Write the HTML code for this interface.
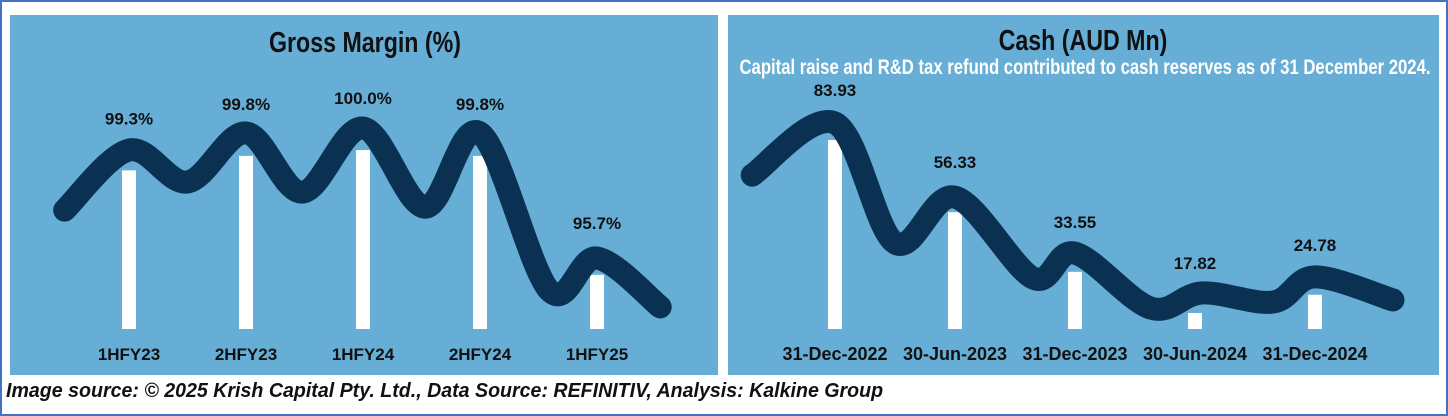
<!DOCTYPE html>
<html><head><meta charset="utf-8"><style>
html,body{margin:0;padding:0;background:#fff;}
body{width:1448px;height:416px;position:relative;overflow:hidden;font-family:"Liberation Sans",sans-serif;}
#frame{position:absolute;left:0;top:0;width:1444px;height:412px;border:2px solid #4472c4;}
.panel{position:absolute;top:15px;height:360px;background:#67aed6;}
#footer{position:absolute;left:6px;top:380px;font-style:italic;font-weight:bold;font-size:20px;color:#111;white-space:nowrap;transform:scaleX(0.98);transform-origin:left top;}
svg text{font-family:"Liberation Sans",sans-serif;}
</style></head><body>
<div id="frame"></div>
<div class="panel" style="left:10px;width:708px;"></div>
<div class="panel" style="left:728px;width:711px;"></div>
<svg id="chart" width="1448" height="416" style="position:absolute;left:0;top:0">
<text x="365" y="52" text-anchor="middle" font-size="29" font-weight="bold" fill="#111" transform="translate(365,0) scale(0.8,1) translate(-365,0)">Gross Margin (%)</text>
<text x="1083" y="50" text-anchor="middle" font-size="29" font-weight="bold" fill="#111" transform="translate(1083,0) scale(0.8,1) translate(-1083,0)">Cash (AUD Mn)</text>
<text x="1085" y="74" text-anchor="middle" font-size="21.4" font-weight="bold" fill="#fff" transform="translate(1085,0) scale(0.78,1) translate(-1085,0)">Capital raise and R&amp;D tax refund contributed to cash reserves as of 31 December 2024.</text>
</svg>
<div id="footer">Image source: © 2025 Krish Capital Pty. Ltd., Data Source: REFINITIV, Analysis: Kalkine Group</div>
<script>
const gmCategories=["1HFY23","2HFY23","1HFY24","2HFY24","1HFY25"];
const gmValues=[99.3,99.8,100.0,99.8,95.7];
const gmLabels=["99.3%","99.8%","100.0%","99.8%","95.7%"];
const gmWaveIdx=[-0.55,0,0.5,1,1.48,2,2.53,3,3.59,4,4.54];
const gmWaveVals=[97.93,100.0,98.9,100.59,98.55,100.76,98.03,100.59,95.17,96.28,94.59];
const cashCategories=["31-Dec-2022","30-Jun-2023","31-Dec-2023","30-Jun-2024","31-Dec-2024"];
const cashValues=[83.93,56.33,33.55,17.82,24.78];
const cashLabels=["83.93","56.33","33.55","17.82","24.78"];
const cashWaveIdx=[-0.69,0,0.5,1,1.65,2,2.63,3.06,3.65,4,4.65];
const cashWaveVals=[70.5,90.4,44.6,62.1,31.2,40.7,19.7,25.5,22.0,31.6,22.8];

const svg=document.getElementById('chart');
const NS="http://www.w3.org/2000/svg";
function mk(t,a){const e=document.createElementNS(NS,t);for(const k in a)e.setAttribute(k,a[k]);svg.appendChild(e);return e;}
function smooth(pts){let d=`M${pts[0][0]},${pts[0][1]}`;for(let i=0;i<pts.length-1;i++){const p0=pts[Math.max(0,i-1)],p1=pts[i],p2=pts[i+1],p3=pts[Math.min(pts.length-1,i+2)];const c1=[p1[0]+(p2[0]-p0[0])/6,p1[1]+(p2[1]-p0[1])/6],c2=[p2[0]-(p3[0]-p1[0])/6,p2[1]-(p3[1]-p1[1])/6];d+=` C${c1[0]},${c1[1]} ${c2[0]},${c2[1]} ${p2[0]},${p2[1]}`;}return d;}
function draw(o){
  const xs=i=>o.x0+i*o.step;
  const ys=v=>o.base-(v-o.vmin)*o.k;
  o.vals.forEach((v,i)=>{
    const b=mk('rect',{x:xs(i)-7,y:ys(v),width:14,height:o.base-ys(v),fill:'#fff'});
    
    
  });
  const pts=o.wIdx.map((ix,j)=>[xs(ix),ys(o.wVals[j])]);
  const p=mk('path',{d:smooth(pts),fill:'none',stroke:'#0a3152',"stroke-width":23,"stroke-linecap":"round","stroke-linejoin":"round"});
  
  
  o.vals.forEach((v,i)=>{
    const t=mk('text',{x:xs(i),y:ys(v)-o.lblOff,"text-anchor":"middle","font-size":17,"font-weight":"bold",fill:"#111"});
    t.textContent=o.labels[i];
    
    
    const c=mk('text',{x:xs(i),y:360,"text-anchor":"middle","font-size":o.catSize,"font-weight":"bold",fill:"#111"});
    c.textContent=o.cats[i];
    
    
  });
}
draw({name:'gm',x0:129,step:117,base:329,vmin:93.83,k:29,vals:gmValues,labels:gmLabels,cats:gmCategories,wIdx:gmWaveIdx,wVals:gmWaveVals,lblOff:46,catSize:17});
draw({name:'cash',x0:835,step:120,base:329,vmin:11.7,k:2.617,vals:cashValues,labels:cashLabels,cats:cashCategories,wIdx:cashWaveIdx,wVals:cashWaveVals,lblOff:44,catSize:18});
</script>
</body></html>
